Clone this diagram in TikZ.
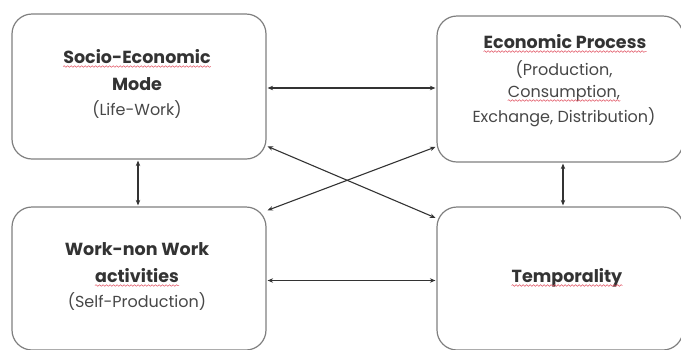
\documentclass[tikz,border=0pt]{standalone}
\usepackage{fontspec}
\setmainfont{Poppins}
\usetikzlibrary{arrows.meta,decorations.pathmorphing}
\definecolor{ink}{HTML}{333333}
\definecolor{frame}{HTML}{7F7F7F}
\definecolor{squiggle}{HTML}{E05060}
\begin{document}
\begin{tikzpicture}[x=1pt,y=-1pt,
  box/.style={draw=frame,line width=1.2pt,rounded corners=20pt,inner sep=0pt},
  hd/.style={anchor=base,inner sep=0pt,text=ink,font=\fontsize{17.5}{20}\selectfont\bfseries},
  sub/.style={anchor=base,inner sep=0pt,text=ink!90,font=\fontsize{16}{19}\selectfont},
  squig/.style={draw=squiggle,line width=0.5pt,decorate,
    decoration={snake,amplitude=0.8pt,segment length=3.5pt}},
  link/.style={{Stealth[length=5.5pt,width=4.5pt]}-{Stealth[length=5.5pt,width=4.5pt]},
    draw=ink,line width=1.1pt,shorten <=1pt,shorten >=1pt}]
\useasboundingbox (0,0) rectangle (681,349);

% the four blocks
\node[box,minimum width=254pt,minimum height=145pt] (b1) at (139,86.5) {};
\node[box,minimum width=246pt,minimum height=146pt] (b2) at (560,89) {};
\node[box,minimum width=254pt,minimum height=143pt] (b3) at (139,278.5) {};
\node[box,minimum width=246pt,minimum height=143pt] (b4) at (560,278.5) {};

% texts of the blocks
\node[hd]  (t1a) at (137,63)  {Socio-Economic};
\node[hd]  (t1b) at (137,90)  {Mode};
\node[sub] (t1c) at (137,115) {(Life-Work)};

\node[hd]  (t2a) at (565,48)  {Economic Process};
\node[sub] (t2b) at (564,75)  {(Production,};
\node[sub] (t2c) at (564,97)  {Consumption,};
\node[sub] (t2d) at (564,122) {Exchange, Distribution)};

\node[hd]  (t3a) at (137,255) {Work-non Work};
\node[hd]  (t3b) at (137,282) {activities};
\node[sub] (t3c) at (137,307) {(Self-Production)};

\node[hd]  (t4a) at (567,282) {Temporality};

% wavy underlines
\foreach \w in {t1a,t2a,t2c,t3b,t4a}
  \draw[squig] ([yshift=-3.5pt]\w.base west) -- ([yshift=-3.5pt]\w.base east);

% connectors
\draw[link] ([yshift=-1.5pt]b1.east) -- ([yshift=-1.5pt]b1.east -| b2.west);
\draw[link] ([yshift=-2pt]b3.east) -- ([yshift=-2pt]b3.east -| b4.west);
\draw[link] ([xshift=-1pt]b1.south) -- ([xshift=-1pt]b1.south |- b3.north);
\draw[link] ([xshift=3pt]b2.south) -- ([xshift=3pt]b2.south |- b4.north);
\draw[link] (b1.-25.8) -- (b4.154);
\draw[link] (b2.-155.3) -- (b3.28.2);
\end{tikzpicture}
\end{document}
